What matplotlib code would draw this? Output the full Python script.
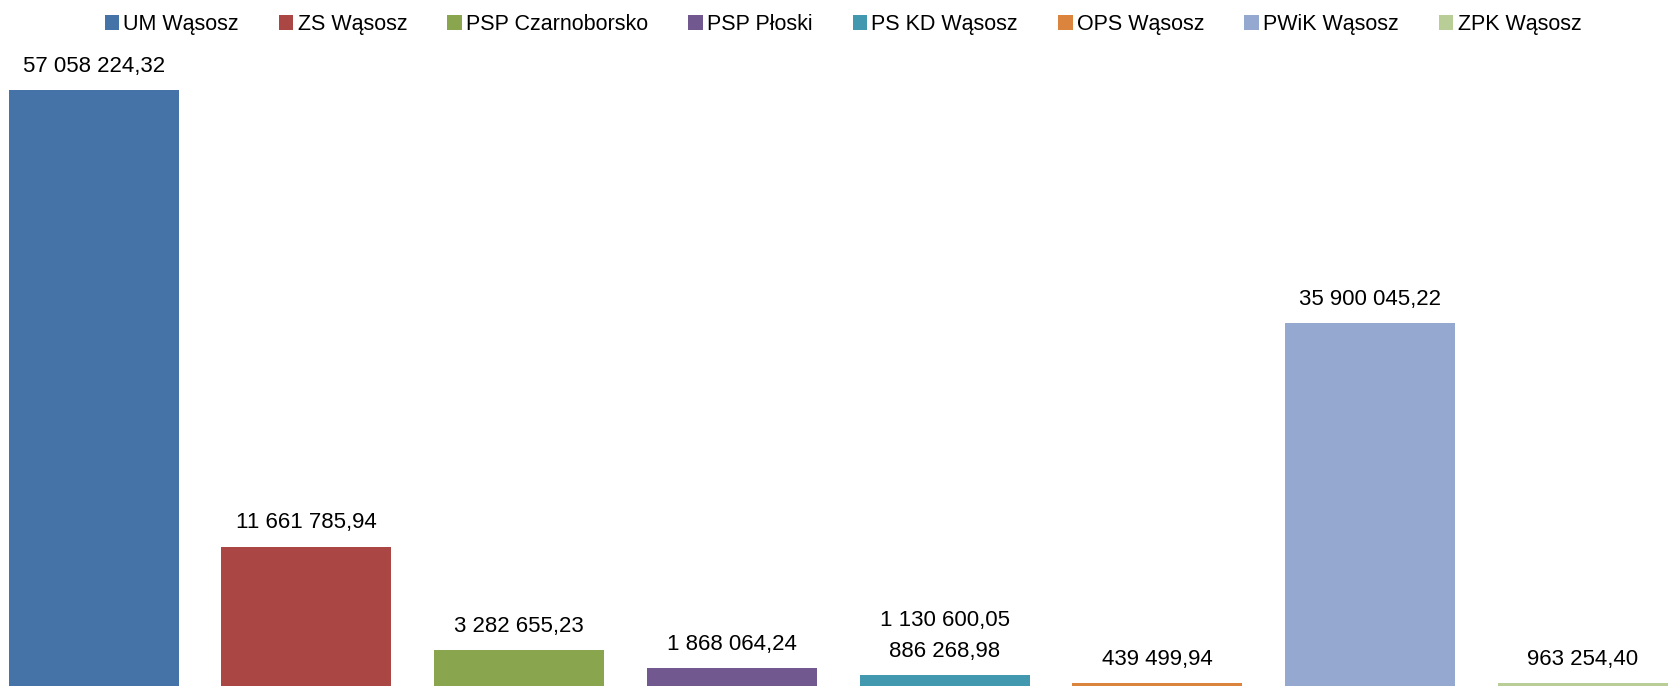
"""Bar chart of budget totals per unit (Wąsosz), cropped Excel-style look."""

import matplotlib
matplotlib.use("Agg")
import matplotlib.pyplot as plt
from matplotlib.patches import Patch

plt.rcParams['font.family'] = ['Liberation Sans', 'DejaVu Sans']

units = ["UM Wąsosz", "ZS Wąsosz", "PSP Czarnoborsko", "PSP Płoski",
         "PS KD Wąsosz", "OPS Wąsosz", "PWiK Wąsosz", "ZPK Wąsosz"]
# bar heights in mln zł
heights = [57.3, 13.4, 3.46, 1.73, 1.06, 0.26, 34.9, 0.26]
value_labels = ["57 058 224,32", "11 661 785,94", "3 282 655,23", "1 868 064,24",
                "1 130 600,05\n886 268,98", "439 499,94", "35 900 045,22", "963 254,40"]
colors = ["#4572A7", "#AA4643", "#89A54E", "#71588F",
          "#4198AF", "#DB843D", "#95A9D0", "#B9CD96"]

fig = plt.figure(figsize=(16.68, 6.86), dpi=100)
ax = fig.add_axes([0, 0, 1, 1])

x = range(len(units))
bars = ax.bar(x, heights, width=0.8, color=colors)

for b, lab in zip(bars, value_labels):
    ax.annotate(lab, (b.get_x() + b.get_width() / 2, b.get_height()),
                xytext=(0, 9.5), textcoords="offset points",
                ha="center", va="bottom", fontsize=16, linespacing=1.6)

ax.set_xlim(-0.44, 7.4)
ax.set_ylim(0, 65.96)
ax.axis("off")

handles = [Patch(facecolor=c, edgecolor="none") for c in colors]
fig.legend(handles, units, loc="upper center", bbox_to_anchor=(0.5054, 1.0),
           ncol=len(units), frameon=False, fontsize=15.5,
           handlelength=0.67, handleheight=0.67, handletextpad=0.2,
           columnspacing=1.86, borderaxespad=0.25)

fig.savefig("out.png", dpi=100)
